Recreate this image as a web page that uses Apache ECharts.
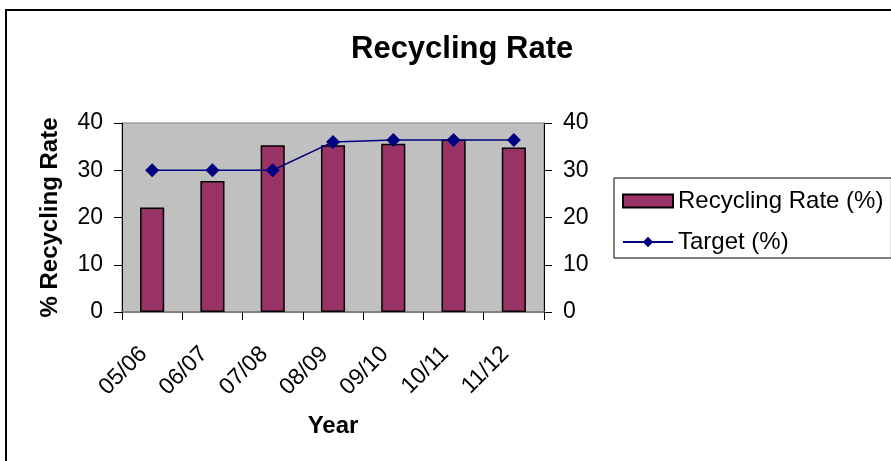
<!DOCTYPE html>
<html>
<head>
<meta charset="utf-8">
<script src="https://cdn.jsdelivr.net/npm/echarts@6/dist/echarts.min.js"></script>
<style>
	html, body { margin: 0; padding: 0; background: #fff; }
	#chart { width: 891px; height: 461px; }
</style>
</head>
<body>
<div id="chart"></div>
<script>
	// 数据
	var years = ['05/06', '06/07', '07/08', '08/09', '09/10', '10/11', '11/12'];
	var recyclingRate = [22.1, 27.7, 35.3, 35.3, 35.6, 36.5, 34.8];
	var target = [30, 30, 30, 36, 36.4, 36.4, 36.4];
	var yTicks = [0, 40, 10]; // min, max, interval

	var font = "'Liberation Sans', Arial, sans-serif";
	var chart = echarts.init(document.getElementById('chart'));

	var yAxisBase = function(pos) {
		return {
			type: 'value',
			position: pos,
			min: yTicks[0],
			max: yTicks[1],
			interval: yTicks[2],
			splitLine: { show: false },
			axisLine: { show: true, lineStyle: { color: '#000', width: 1 } },
			axisTick: { show: true, length: 8, lineStyle: { color: '#000' } },
			axisLabel: { fontSize: 23, color: '#000', fontFamily: font, margin: 19 }
		};
	};

	var leftAxis = yAxisBase('left');
	leftAxis.name = '% Recycling Rate';
	leftAxis.nameLocation = 'middle';
	leftAxis.nameRotate = 90;
	leftAxis.nameGap = 60;
	leftAxis.nameTextStyle = { fontSize: 24, fontWeight: 'bold', color: '#000', fontFamily: font };

	var option = {
		backgroundColor: '#fff',
		animation: false,
		title: {
			text: 'Recycling Rate',
			left: 346,
			top: 29,
			textStyle: { fontSize: 31, fontWeight: 'bold', color: '#000', fontFamily: font }
		},
		graphic: [{
			type: 'rect',
			shape: { x: 6, y: 10, width: 920, height: 480 },
			style: { fill: 'none', stroke: '#000', lineWidth: 2 },
			silent: true
		}],
		legend: {
			left: 614,
			top: 178,
			orient: 'vertical',
			padding: [11, 8, 4, 8],
			itemGap: 17,
			itemWidth: 50,
			itemHeight: 13,
			borderColor: '#000',
			borderWidth: 1,
			textStyle: { fontSize: 24, color: '#000', fontFamily: font },
			data: [{ name: 'Recycling Rate (%)', icon: 'rect' }, 'Target (%)']
		},
		grid: {
			left: 122,
			right: 347,
			top: 123,
			bottom: 149,
			show: true,
			backgroundColor: '#C0C0C0',
			borderColor: '#808080',
			borderWidth: 1
		},
		xAxis: {
			type: 'category',
			data: years,
			name: 'Year',
			nameLocation: 'middle',
			nameGap: 102,
			nameTextStyle: { fontSize: 24, fontWeight: 'bold', color: '#000', fontFamily: font },
			axisLine: { show: true, lineStyle: { color: '#808080', width: 2 } },
			axisTick: { show: true, length: 8, lineStyle: { color: '#000' } },
			axisLabel: { rotate: 45, fontSize: 23, color: '#000', fontFamily: font, margin: 30, padding: [0, 12, 0, 0] }
		},
		yAxis: [leftAxis, yAxisBase('right')],
		series: [{
			name: 'Recycling Rate (%)',
			type: 'bar',
			data: recyclingRate,
			barWidth: '40%',
			itemStyle: { color: '#993366', borderColor: '#000', borderWidth: 1.5 }
		}, {
			name: 'Target (%)',
			type: 'line',
			data: target,
			symbol: 'diamond',
			symbolSize: 14,
			lineStyle: { color: '#000080', width: 1.5 },
			itemStyle: { color: '#000080' }
		}]
	};

	chart.setOption(option);
</script>
</body>
</html>
